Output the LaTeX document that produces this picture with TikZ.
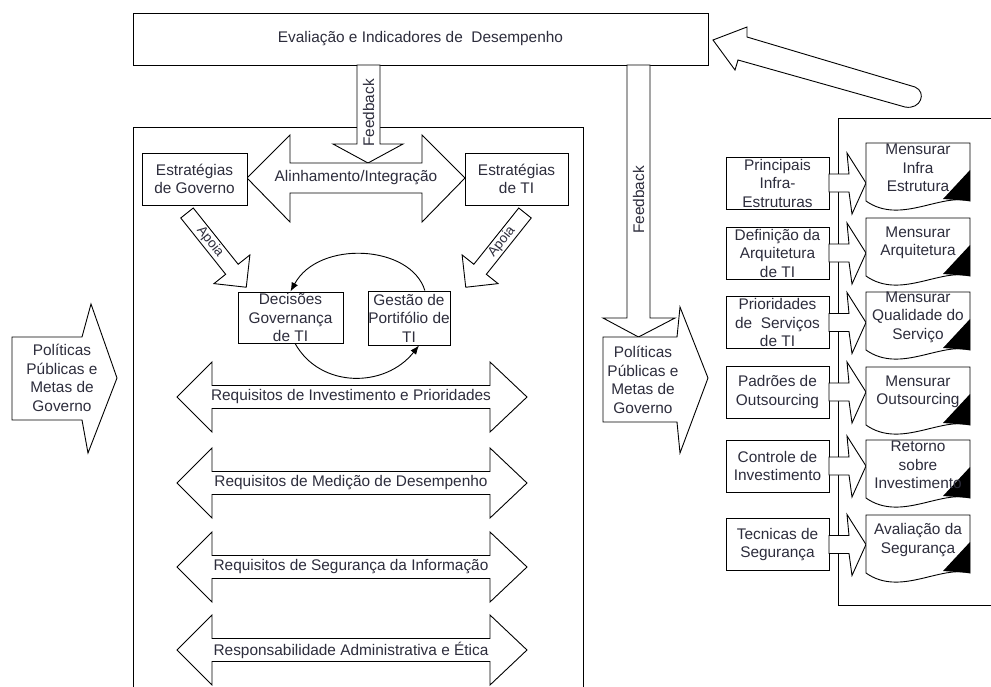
\documentclass[tikz,border=0pt]{standalone}
\usepackage{fontspec}
\setmainfont{Liberation Sans}
\usetikzlibrary{positioning, arrows.meta}
\definecolor{txtcol}{RGB}{45,45,60}

\begin{document}
\begin{tikzpicture}[x=1pt, y=-1pt, line width=0.9pt,
        font=\fontsize{15.4}{18.5}\selectfont,
        box/.style={shape = rectangle, draw = black, fill = white, align = center, text = txtcol, inner sep = 0pt},
        lbl/.style={align = center, text = txtcol, inner sep = 0pt},
        blk/.style={draw = black, fill = white, line join = miter}]
    \useasboundingbox (0,0) rectangle (991,686);

    \draw (133,687) -- (133,127) -- (583,127) -- (583,687);
    \node [box, minimum width = 575pt, minimum height = 52pt] (eval) at (420.5,39) {Evaliação e Indicadores de\ \ Desempenho};

    \draw [blk] (357,65) -- (357,144) -- (333,144) -- (368,163) -- (403,144) -- (380,144) -- (380,65) -- cycle;
    \node [lbl, rotate = 90] (fb1) at (368.5,113) {Feedback};

    \draw [blk] (247,178) -- (290,135) -- (290,163) -- (422,163) -- (422,135) -- (465,178) -- (422,222) -- (422,193) -- (290,193) -- (290,222) -- cycle;
    \node [lbl] (alin) at (356,178) {Alinhamento/Integração};

    \node [box, minimum width = 105pt, minimum height = 52pt] (estgov) at (194.5,179) {Estratégias\\de Governo};
    \node [box, minimum width = 103pt, minimum height = 52pt] (estti) at (516.5,179) {Estratégias\\de TI};

    \begin{scope}[shift={(187,213)}, rotate=-51.4]
        \draw [blk] (0,-8) -- (72,-8) -- (72,-23) -- (95,0) -- (72,23) -- (72,8) -- (0,8) -- cycle;
        \node [lbl, rotate = -51.4, font=\fontsize{13.5}{16}\selectfont] (apoia1) at (37,0) {Apoia};
    \end{scope}
    \begin{scope}[shift={(525,213)}, rotate=-128.6]
        \draw [blk] (0,-8) -- (72,-8) -- (72,-23) -- (95,0) -- (72,23) -- (72,8) -- (0,8) -- cycle;
        \node [lbl, rotate = 51.4, font=\fontsize{13.5}{16}\selectfont] (apoia2) at (37,0) {Apoia};
    \end{scope}

    \node [box, minimum width = 105pt, minimum height = 51pt] (dec) at (290.5,317.5) {Decisões\\Governança\\de TI};
    \node [box, minimum width = 82pt, minimum height = 54pt] (gest) at (409,318) {Gestão de\\Portifólio de\\TI};
    \draw [-{Latex[length=9pt, width=7pt]}] (gest.60) .. controls +(-14,-46) and +(28,-52) .. (dec.north);
    \draw [-{Latex[length=9pt, width=7pt]}] (dec.-80) .. controls +(25,45) and +(-34,43) .. (gest.-70);

    \foreach \yc/\txt [count=\n] in {397/Requisitos de Investimento e Prioridades, 483/Requisitos de Medição de Desempenho, 567/Requisitos de Segurança da Informação, 650/Responsabilidade Administrativa e Ética} {
        \draw [blk] (177,\yc) -- (212,\yc-35) -- (212,\yc-11.5) -- (490,\yc-11.5) -- (490,\yc-35) -- (527,\yc) -- (490,\yc+35) -- (490,\yc+11.5) -- (212,\yc+11.5) -- (212,\yc+35) -- cycle;
        \node [lbl] (req\n) at (351,\yc) {\txt};
    }

    \draw [blk] (12,337) -- (82,337) -- (91,304) -- (117,378) -- (88,453) -- (82,420) -- (12,420) -- cycle;
    \node [lbl] (pol1) at (62,378) {Políticas\\Públicas e\\Metas de\\Governo};

    \draw [blk] (627,65) -- (627,318) -- (603,318) -- (638.5,337) -- (675,318) -- (650,318) -- (650,65) -- cycle;
    \node [lbl, rotate = 90] (fb2) at (638.5,200) {Feedback};

    \draw [blk] (603,337) -- (677,337) -- (680,307) -- (708,378) -- (680,453) -- (677,422) -- (603,422) -- cycle;
    \node [lbl] (pol2) at (643,380) {Políticas\\Públicas e\\Metas de\\Governo};

    \draw (991,118) -- (838,118) -- (838,605) -- (991,605);

    \foreach \yc/\yt/\srctxt/\dsttxt [count=\n] in {
            183/143/{Principais\\Infra-\\Estruturas}/{Mensurar\\Infra\\Estrutura},
            253/218/{Definição da\\Arquitetura\\de TI}/{Mensurar\\Arquitetura},
            322.5/292/{Prioridades\\de\ \ Serviços\\de TI}/{Mensurar\\Qualidade do\\Serviço},
            392/367/{Padrões de\\Outsourcing}/{Mensurar\\Outsourcing},
            466/440/{Controle de\\Investimento}/{Retorno\\sobre\\Investimento},
            544.5/515/{Tecnicas de\\Segurança}/{Avaliação da\\Segurança}} {
        \node [box, minimum width = 103pt, minimum height = 52pt] (src\n) at (777.5,\yc) {\srctxt};
        \draw [blk] (829,\yc-9) -- (849,\yc-9) -- (847,\yc-30) -- (866,\yc) -- (852,\yc+31) -- (849,\yc+9) -- (829,\yc+9) -- cycle;
        \draw [blk] (866,\yt) -- (970,\yt) -- (970,\yt+58) .. controls (940,\yt+50) and (900,\yt+82) .. (866,\yt+58) -- cycle;
        \fill (943,\yt+56) -- (970,\yt+27) -- (970,\yt+58) -- cycle;
        \node [lbl] (doc\n) at (918,\yt+25) {\dsttxt};
    }

    \draw [blk] (713,40) -- (747,27) -- (747,37) -- (915,87) .. controls (927,92) and (921,110) .. (905,107) -- (738,60) -- (735,70) -- cycle;
\end{tikzpicture}
\end{document}
